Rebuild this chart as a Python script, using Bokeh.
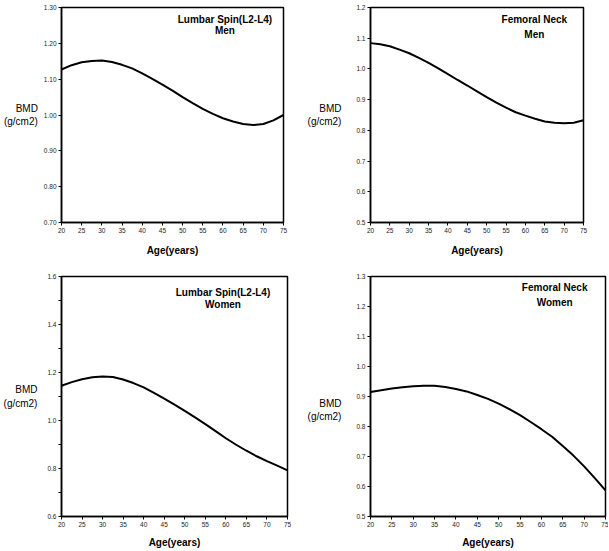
from bokeh.plotting import figure
from bokeh.layouts import column, row
from bokeh.models import Range1d, Label, FixedTicker, PrintfTickFormatter
from bokeh.embed import file_html
from bokeh.resources import INLINE

# ---- data ----
ages = [20, 22.5, 25, 27.5, 30, 32.5, 35, 37.5, 40, 42.5, 45, 47.5, 50,
        52.5, 55, 57.5, 60, 62.5, 65, 67.5, 70, 72.5, 75]
lumbar_men = [1.127, 1.139, 1.147, 1.151, 1.152, 1.148, 1.140, 1.130, 1.116,
              1.101, 1.085, 1.068, 1.050, 1.033, 1.017, 1.003, 0.991, 0.982,
              0.975, 0.972, 0.975, 0.985, 1.000]
femoral_men = [1.084, 1.080, 1.074, 1.063, 1.051, 1.036, 1.020, 1.002, 0.983,
               0.964, 0.946, 0.927, 0.908, 0.890, 0.874, 0.859, 0.848, 0.838,
               0.829, 0.825, 0.823, 0.825, 0.833]
lumbar_women = [1.145, 1.160, 1.172, 1.180, 1.183, 1.181, 1.171, 1.156, 1.138,
                1.115, 1.091, 1.066, 1.040, 1.013, 0.985, 0.956, 0.926, 0.899,
                0.874, 0.851, 0.831, 0.812, 0.792]
femoral_women = [0.915, 0.921, 0.927, 0.931, 0.934, 0.936, 0.936, 0.932, 0.925,
                 0.917, 0.905, 0.892, 0.876, 0.858, 0.838, 0.815, 0.791, 0.766,
                 0.735, 0.703, 0.667, 0.628, 0.587]

x_ticks = [20, 25, 30, 35, 40, 45, 50, 55, 60, 65, 70, 75]
y_ticks_lm = [0.70, 0.80, 0.90, 1.00, 1.10, 1.20, 1.30]
y_ticks_fm = [0.5, 0.6, 0.7, 0.8, 0.9, 1.0, 1.1, 1.2]
y_ticks_lw = [0.6, 0.8, 1.0, 1.2, 1.4, 1.6]
y_minor_lw = [0.7, 0.9, 1.1, 1.3, 1.5]
y_ticks_fw = [0.5, 0.6, 0.7, 0.8, 0.9, 1.0, 1.1, 1.2, 1.3]

titles = [("Lumbar Spin(L2-L4)", "Men"), ("Femoral Neck", "Men"),
          ("Lumbar Spin(L2-L4)", "Women"), ("Femoral Neck", "Women")]
x_label = "Age(years)"
y_label = "BMD\n(g/cm2)"

FONT = "Liberation Sans"


def panel(values, yticks, fmt, w, h, borders, title, tpos, yl_standoff,
          minor=None, xl_standoff=9, y_label_text=y_label):
    left, right, top, bottom = borders
    p = figure(width=w, height=h, output_backend="svg", toolbar_location=None,
               x_range=Range1d(20, 75), y_range=Range1d(yticks[0], yticks[-1]),
               min_border_left=left, min_border_right=right,
               min_border_top=top, min_border_bottom=bottom)
    p.grid.visible = False
    p.outline_line_color = "black"
    p.outline_line_width = 1.5
    p.outline_line_alpha = 1.0

    p.line(ages, values, line_color="black", line_width=2)

    if minor:
        p.yaxis.ticker = FixedTicker(ticks=yticks, minor_ticks=minor)
    else:
        p.yaxis.ticker = FixedTicker(ticks=yticks)
    p.xaxis.ticker = FixedTicker(ticks=x_ticks)
    p.yaxis.formatter = PrintfTickFormatter(format=fmt)

    for ax in (p.xaxis, p.yaxis):
        ax.axis_line_width = 1.5
        ax.axis_line_color = "black"
        ax.major_tick_line_color = "black"
        ax.major_tick_line_width = 1
        ax.major_tick_out = 3
        ax.major_tick_in = 0
        ax.minor_tick_out = 3 if minor else 0
        ax.minor_tick_in = 0
        ax.minor_tick_line_color = "black"
        ax.major_label_text_font = FONT
        ax.major_label_text_font_size = "6.5px"
        ax.major_label_text_color = "#222222"
        ax.major_label_standoff = 2
    p.xaxis.minor_tick_out = 0

    p.xaxis.axis_label = x_label
    p.xaxis.axis_label_text_font = FONT
    p.xaxis.axis_label_text_font_style = "bold"
    p.xaxis.axis_label_text_font_size = "10px"
    p.xaxis.axis_label_text_color = "black"
    p.xaxis.axis_label_standoff = xl_standoff

    p.yaxis.axis_label = y_label_text
    p.yaxis.axis_label_orientation = "horizontal"
    p.yaxis.axis_label_text_font = FONT
    p.yaxis.axis_label_text_font_style = "normal"
    p.yaxis.axis_label_text_font_size = "10px"
    p.yaxis.axis_label_text_color = "black"
    p.yaxis.axis_label_standoff = yl_standoff

    (tx, ty1, ty2) = tpos
    for txt, ty in zip(title, (ty1, ty2)):
        p.add_layout(Label(x=tx, y=ty, text=txt, text_align="center",
                           text_baseline="middle", text_font=FONT,
                           text_font_style="bold", text_font_size="10px",
                           text_color="black"))
    return p


p1 = panel(lumbar_men, y_ticks_lm, "%.2f", 304, 270, (61, 21, 2, 48),
           titles[0], (60.5, 1.267, 1.235), 3)
p2 = panel(femoral_men, y_ticks_fm, "%.1f", 304, 270, (64, 25, 7, 48),
           titles[1], (62.3, 1.160, 1.111), 12)
p3 = panel(lumbar_women, y_ticks_lw, "%.1f", 304, 280, (60, 17, 6, 31),
           titles[2], (59.3, 1.535, 1.485), 7,
           minor=y_minor_lw, xl_standoff=7)
p4 = panel(femoral_women, y_ticks_fw, "%.1f", 304, 280, (64, 3, 5, 32),
           titles[3], (63.1, 1.264, 1.215), 12,
           xl_standoff=7, y_label_text="\n\n" + y_label)

layout = column(row(p1, p2), row(p3, p4))
open("out.html", "w").write(file_html(layout, INLINE))
